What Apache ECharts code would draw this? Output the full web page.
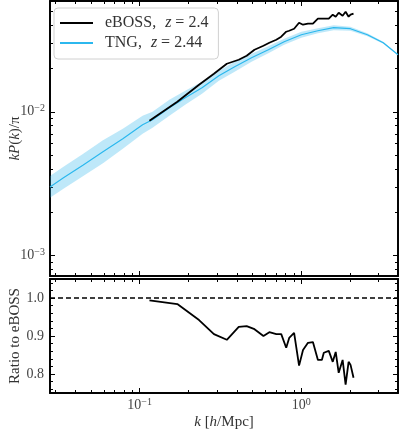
<!DOCTYPE html>
<html lang="en">
<head>
<meta charset="UTF-8">
<title></title>
<script src="https://cdn.jsdelivr.net/npm/echarts@6/dist/echarts.min.js"></script>
<style>
  html,body{margin:0;padding:0;background:#fff}
  #chart{width:399px;height:432px}
</style>
</head>
<body>
<div id="chart"></div>
<script>
// TNG power spectrum, z = 2.44 (line + band)
var tngK  = [0.0279, 0.0338, 0.0448, 0.0593, 0.0787, 0.1043, 0.1201, 0.1527, 0.1913, 0.243, 0.309, 0.387, 0.492, 0.625, 0.783, 1.0, 1.265, 1.585, 2.01, 2.56, 3.21, 3.96];
var tngP  = [0.00300, 0.00347, 0.00427, 0.00527, 0.00649, 0.00812, 0.00880, 0.01066, 0.01252, 0.01469, 0.01781, 0.02057, 0.02377, 0.02703, 0.03072, 0.03437, 0.03664, 0.03846, 0.03784, 0.03437, 0.03022, 0.02493];
var tngLo = [0.00252, 0.00291, 0.00358, 0.00438, 0.00552, 0.00703, 0.00774, 0.00938, 0.01119, 0.01334, 0.01645, 0.01900, 0.02230, 0.02555, 0.02928, 0.03276, 0.03520, 0.03695, 0.03663, 0.03356, 0.02974, 0.02473];
var tngHi = [0.00358, 0.00414, 0.00510, 0.00633, 0.00762, 0.00938, 0.01000, 0.01212, 0.01401, 0.01617, 0.01929, 0.02228, 0.02534, 0.02860, 0.03223, 0.03606, 0.03814, 0.04004, 0.03909, 0.03520, 0.03070, 0.02513];

// eBOSS, z = 2.4 and ratio TNG / eBOSS
var ebossK = [0.115, 0.171, 0.233, 0.288, 0.346, 0.410, 0.459, 0.513, 0.583, 0.634, 0.700, 0.751, 0.806, 0.841, 0.902, 0.968, 1.024, 1.099, 1.179, 1.266, 1.339, 1.377, 1.478, 1.564, 1.631, 1.702, 1.800, 1.878, 1.960, 2.015, 2.102];
var ebossP = [0.00866, 0.01174, 0.01542, 0.01839, 0.02159, 0.02302, 0.02455, 0.02703, 0.02882, 0.03022, 0.03172, 0.03328, 0.03606, 0.03664, 0.03784, 0.04167, 0.04035, 0.04101, 0.04101, 0.04443, 0.04443, 0.04443, 0.04443, 0.04738, 0.04587, 0.04892, 0.04661, 0.04971, 0.04587, 0.04738, 0.04815];
var ratio  = [0.994, 0.984, 0.942, 0.905, 0.890, 0.924, 0.926, 0.918, 0.900, 0.910, 0.905, 0.905, 0.869, 0.895, 0.908, 0.822, 0.863, 0.882, 0.884, 0.837, 0.837, 0.856, 0.861, 0.832, 0.858, 0.803, 0.837, 0.772, 0.832, 0.824, 0.790];

// axis limits and ticks
var xMin = 0.0279, xMax = 3.96;
var yMin = 0.00072, yMax = 0.059;
var rMin = 0.75, rMax = 1.05;
var xMajor = [0.1, 1];
var xMinor = [0.03, 0.04, 0.05, 0.06, 0.07, 0.08, 0.09, 0.2, 0.3, 0.4, 0.5, 0.6, 0.7, 0.8, 0.9, 2, 3];
var xLabels = {0.1: '\u22121', 1: '0'};
var yMajor = [0.001, 0.01];
var yMinor = [0.0008, 0.0009, 0.002, 0.003, 0.004, 0.005, 0.006, 0.007, 0.008, 0.009, 0.02, 0.03, 0.04, 0.05];
var yLabels = {0.001: '\u22123', 0.01: '\u22122'};
var rMajor = [0.8, 0.9, 1.0];
var rMinor = [0.76, 0.78, 0.82, 0.84, 0.86, 0.88, 0.92, 0.94, 0.96, 0.98, 1.02, 1.04];

var FONT = '"Liberation Serif", "DejaVu Serif", serif';
var powRich = {
    b: {fontFamily: FONT, fontSize: 14, color: '#444'},
    s: {fontFamily: FONT, fontSize: 10, color: '#444', verticalAlign: 'top', padding: [0, 0, 7, 0]}
};

function tickAxes(kind, grid, type, min, max, major, minor, label) {
    var sides = kind == 'x' ? ['bottom', 'top'] : ['left', 'right'];
    var out = [];
    sides.forEach(function(side, si){
        [major, minor].forEach(function(vals, mi){
            var ax = {
                gridIndex: grid, type: type, min: min, max: max, position: side,
                axisLine: {show: true, onZero: false, lineStyle: {color: '#000', width: 1.5}},
                splitLine: {show: false},
                axisTick: {show: true, inside: true, length: mi == 0 ? 5 : 3, customValues: vals,
                           lineStyle: {color: '#000', width: 1}},
                axisLabel: {show: false}
            };
            if (si == 0 && mi == 0 && label) ax.axisLabel = label;
            out.push(ax);
        });
    });
    return out;
}

var xLabelBottom = {
    show: true, margin: 4, customValues: xMajor,
    formatter: function(v){ return '{b|10}{s|' + (xLabels[v] || '') + '}'; },
    rich: powRich
};
var yLabelTop = {
    show: true, margin: 5, customValues: yMajor,
    formatter: function(v){ return '{b|10}{s|' + (yLabels[v] || '') + '}'; },
    rich: powRich
};
var yLabelRatio = {
    show: true, margin: 6, customValues: rMajor,
    formatter: function(v){ return v.toFixed(1); },
    fontFamily: FONT, fontSize: 14, color: '#444'
};

// top grid: axes 0..3 (x), 0..3 (y); bottom grid: x 4..7, y 4..7
var xAxes = tickAxes('x', 0, 'log', xMin, xMax, xMajor, xMinor, null)
    .concat(tickAxes('x', 1, 'log', xMin, xMax, xMajor, xMinor, xLabelBottom));
var yAxes = tickAxes('y', 0, 'log', yMin, yMax, yMajor, yMinor, yLabelTop)
    .concat(tickAxes('y', 1, 'value', rMin, rMax, rMajor, rMinor, yLabelRatio));

var nameFont = {fontFamily: FONT, fontSize: 15, color: '#333',
    rich: {i: {fontFamily: FONT, fontSize: 15, fontStyle: 'italic', color: '#333'}}};

xAxes[4].name = '{i|k} [{i|h}/Mpc]';
xAxes[4].nameLocation = 'middle';
xAxes[4].nameGap = 22;
xAxes[4].nameMoveOverlap = false;
xAxes[4].nameTextStyle = nameFont;

yAxes[0].name = '{i|kP}({i|k})/\u03c0';
yAxes[0].nameLocation = 'middle';
yAxes[0].nameGap = 27;
yAxes[0].nameMoveOverlap = false;
yAxes[0].nameTextStyle = nameFont;

yAxes[4].name = 'Ratio to eBOSS';
yAxes[4].nameLocation = 'middle';
yAxes[4].nameGap = 27;
yAxes[4].nameMoveOverlap = false;
yAxes[4].nameTextStyle = nameFont;

var legendText = {eBOSS: '2.4', TNG: '2.44'};

var option = {
    animation: false,
    grid: [
        {left: 46, right: 1, top: 1, height: 275, show: true, borderColor: '#000', borderWidth: 1.5},
        {left: 46, right: 1, top: 279, height: 114, show: true, borderColor: '#000', borderWidth: 1.5}
    ],
    xAxis: xAxes,
    yAxis: yAxes,
    legend: {
        data: [
            {name: 'eBOSS', icon: 'rect', itemStyle: {color: '#000'}},
            {name: 'TNG', icon: 'rect', itemStyle: {color: '#2cb8ee'}}
        ],
        orient: 'vertical', left: 54, top: 8,
        itemWidth: 33, itemHeight: 1.8, itemGap: 4,
        padding: [7, 10, 8, 6],
        backgroundColor: 'rgba(255,255,255,0.8)', borderColor: '#d0d0d0', borderWidth: 1, borderRadius: 4,
        formatter: function(name){
            return '{sp|}{a|' + name + ',}{sp2|}{i|z}{a| = ' + legendText[name] + '}';
        },
        textStyle: {
            fontFamily: FONT, fontSize: 16, color: '#333',
            rich: {
                sp: {width: 7},
                sp2: {width: 9},
                a: {fontFamily: FONT, fontSize: 16, color: '#333', lineHeight: 18},
                i: {fontFamily: FONT, fontSize: 16, fontStyle: 'italic', color: '#333', lineHeight: 18}
            }
        }
    },
    series: [
        {
            name: 'TNG band', type: 'custom', xAxisIndex: 0, yAxisIndex: 0, silent: true, z: 1,
            data: tngK.map(function(k, i){ return [k, tngLo[i], tngHi[i]]; }),
            encode: {x: 0, y: [1, 2]},
            renderItem: function(params, api){
                if (params.dataIndex !== 0) return;
                var pts = [];
                for (var i = 0; i < tngK.length; i++) pts.push(api.coord([tngK[i], tngHi[i]]));
                for (var j = tngK.length - 1; j >= 0; j--) pts.push(api.coord([tngK[j], tngLo[j]]));
                return {type: 'polygon', shape: {points: pts}, style: {fill: 'rgba(40,180,235,0.3)'}};
            }
        },
        {
            name: 'TNG', type: 'line', xAxisIndex: 0, yAxisIndex: 0, symbol: 'none', z: 2,
            data: tngK.map(function(k, i){ return [k, tngP[i]]; }),
            lineStyle: {color: '#2cb8ee', width: 1.2}, itemStyle: {color: '#2cb8ee'}
        },
        {
            name: 'eBOSS', type: 'line', xAxisIndex: 0, yAxisIndex: 0, symbol: 'none', z: 3,
            data: ebossK.map(function(k, i){ return [k, ebossP[i]]; }),
            lineStyle: {color: '#000', width: 1.8}, itemStyle: {color: '#000'}
        },
        {
            name: 'ratio', type: 'line', xAxisIndex: 4, yAxisIndex: 4, symbol: 'none', z: 3,
            data: ebossK.map(function(k, i){ return [k, ratio[i]]; }),
            lineStyle: {color: '#000', width: 1.8}, itemStyle: {color: '#000'},
            markLine: {
                silent: true, symbol: ['none', 'none'], label: {show: false},
                lineStyle: {color: '#000', width: 1.5, type: [5, 3]},
                data: [{yAxis: 1}]
            }
        }
    ]
};

var chart = echarts.init(document.getElementById('chart'), null, {renderer: 'canvas'});
chart.setOption(option);
</script>
</body>
</html>
